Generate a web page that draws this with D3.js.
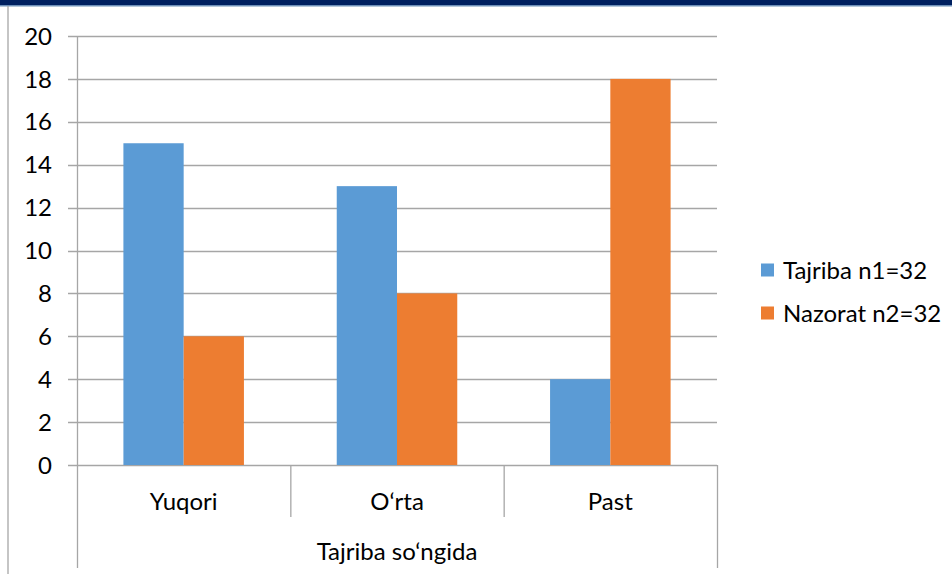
<!DOCTYPE html>
<html>
<head>
<meta charset="utf-8">
<script src="https://cdn.jsdelivr.net/npm/d3@7"></script>
<style>
  html, body { margin: 0; padding: 0; background: #fff; }
  svg { display: block; font-family: Lato, "Open Sans", sans-serif; }
</style>
</head>
<body>
<svg id="chart" width="952" height="574"></svg>
<script>
const categories = ["Yuqori", "O\u2018rta", "Past"];
const seriesNames = ["Tajriba n1=32", "Nazorat n2=32"];
const tajriba = [15, 13, 4];
const nazorat = [6, 8, 18];
const yTicks = [0, 2, 4, 6, 8, 10, 12, 14, 16, 18, 20];
const groupLabel = "Tajriba so\u2018ngida";

const colors = ["#5b9bd5", "#ed7d31"];
const grid = "#a6a6a6";
const FS = 24;

const svg = d3.select("#chart");
const W = 952, H = 574;

// top bar + left rule
svg.append("rect").attr("x", 0).attr("y", 0).attr("width", W).attr("height", 5).attr("fill", "#002060");
svg.append("rect").attr("x", 0).attr("y", 5).attr("width", W).attr("height", 1.5).attr("fill", "#6d8fb8");
svg.append("line").attr("x1", 8).attr("x2", 8).attr("y1", 6).attr("y2", H)
  .attr("stroke", grid).attr("stroke-width", 1.3);

const L = 77, R = 717, T = 36, B = 465;

const x0 = d3.scaleBand().domain(categories).range([L, R]).paddingInner(0).paddingOuter(0);
const x1 = d3.scaleBand().domain(seriesNames).range([0, x0.bandwidth()]).paddingInner(0).paddingOuter(0.77);
const y = d3.scaleLinear().domain([0, 20]).range([B, T]);

// gridlines with tick stub
svg.append("g").selectAll("line").data(yTicks).join("line")
  .attr("x1", L - 9).attr("x2", R)
  .attr("y1", d => Math.round(y(d)) + 0.5).attr("y2", d => Math.round(y(d)) + 0.5)
  .attr("stroke", grid).attr("stroke-width", 1.3);

// y labels
svg.append("g").selectAll("text").data(yTicks).join("text")
  .attr("x", 52).attr("y", d => y(d)).attr("dy", "0.36em")
  .attr("text-anchor", "end").attr("font-size", FS).attr("fill", "#000")
  .text(d => d);

// bars
const rows = categories.map((c, i) => ({ cat: c, vals: [tajriba[i], nazorat[i]] }));
const gBars = svg.append("g").selectAll("g").data(rows).join("g")
  .attr("transform", d => `translate(${x0(d.cat)},0)`);
gBars.selectAll("rect").data(d => d.vals.map((v, j) => ({ s: seriesNames[j], v, j })))
  .join("rect")
  .attr("x", d => x1(d.s)).attr("width", x1.bandwidth())
  .attr("y", d => y(d.v)).attr("height", d => y(0) - y(d.v))
  .attr("fill", d => colors[d.j]);

// y axis line (extends through category area)
svg.append("line").attr("x1", L + 0.5).attr("x2", L + 0.5).attr("y1", T).attr("y2", 568)
  .attr("stroke", grid).attr("stroke-width", 1.3);

// category separators
const seps = categories.slice(1).map(c => x0(c));
svg.append("g").selectAll("line").data(seps).join("line")
  .attr("x1", d => d + 0.5).attr("x2", d => d + 0.5).attr("y1", B).attr("y2", 517)
  .attr("stroke", grid).attr("stroke-width", 1.3);
svg.append("line").attr("x1", R + 0.5).attr("x2", R + 0.5).attr("y1", B).attr("y2", 568)
  .attr("stroke", grid).attr("stroke-width", 1.3);

// category labels
svg.append("g").selectAll("text").data(categories).join("text")
  .attr("x", d => x0(d) + x0.bandwidth() / 2).attr("y", 501).attr("dy", "0.36em")
  .attr("text-anchor", "middle").attr("font-size", FS).attr("fill", "#000")
  .text(d => d);

svg.append("text").attr("x", (L + R) / 2).attr("y", 551).attr("dy", "0.36em")
  .attr("text-anchor", "middle").attr("font-size", FS).attr("fill", "#000")
  .text(groupLabel);

// legend
const lg = svg.append("g").selectAll("g").data(seriesNames).join("g")
  .attr("transform", (d, i) => `translate(761, ${270 + i * 43})`);
lg.append("rect").attr("x", 0).attr("y", -6.5).attr("width", 13).attr("height", 13)
  .attr("fill", (d, i) => colors[i]);
lg.append("text").attr("x", 22).attr("y", 0).attr("dy", "0.36em")
  .attr("font-size", FS).attr("fill", "#000").text(d => d);
</script>
</body>
</html>
